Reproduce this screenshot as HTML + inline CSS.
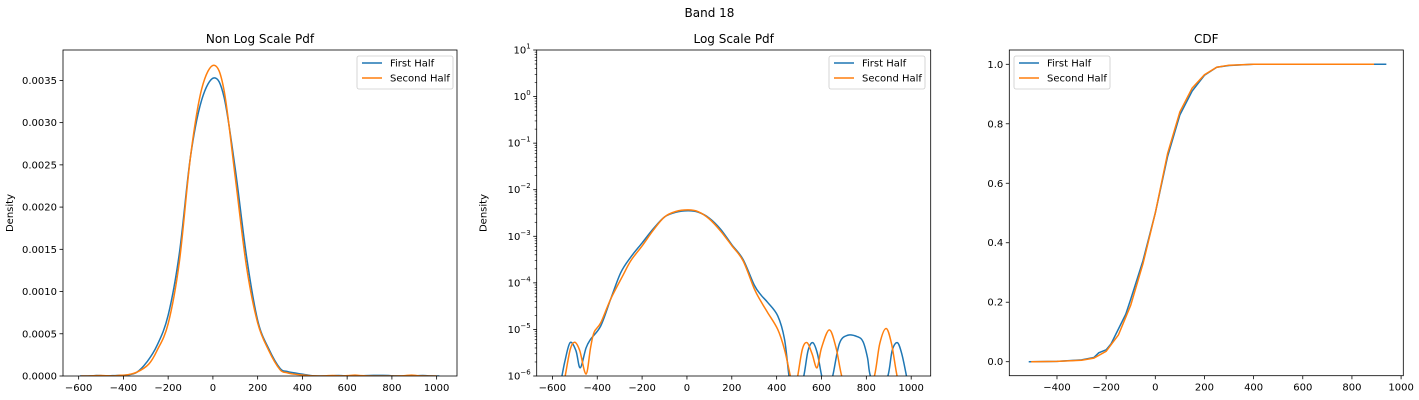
<!DOCTYPE html>
<html><head><meta charset="utf-8"><style>
html,body{margin:0;padding:0;background:#fff;width:1419px;height:400px;overflow:hidden;}
svg{display:block;font-family:"DejaVu Sans","Liberation Sans",sans-serif;}
</style></head><body>
<svg id="fig" width="1419" height="400" viewBox="0 0 1419 400" xmlns="http://www.w3.org/2000/svg" overflow="hidden">
<rect width="1419" height="400" fill="#fff"/>
<text x="709.5" y="17" font-size="12" text-anchor="middle">Band 18</text>
</svg>
<script>
// ---- data ----
const firstX = [-594,-575,-545,-521,-495,-476,-450,-429,-384,-340,-295,-250,-200,-150,-100,-50,5,50,100,150,200,250,300,330,360,405,435,455,470,495,521,540,561,582,601,625,650,680,717,760,785,805,818,855,896,915,938,958,979,995,1012];
const firstD = [1e-9,1e-7,2e-6,5.2e-6,3.5e-6,1.5e-6,4e-6,6.2e-6,1.2e-5,4.5e-5,1.66e-4,3.6e-4,7.2e-4,1.45e-3,2.6e-3,3.27e-3,3.53e-3,3.3e-3,2.45e-3,1.42e-3,6.6e-4,3.2e-4,9e-5,5.5e-5,3.8e-5,1.95e-5,6.2e-6,1e-6,1e-7,1e-7,1e-6,3.5e-6,5.2e-6,3e-6,1e-6,1e-7,1e-6,5e-6,7.5e-6,7e-6,5.5e-6,2.5e-6,1e-6,1e-7,1e-6,3.5e-6,5.2e-6,3e-6,1e-6,1e-7,1e-9];
const secondX = [-590,-560,-543,-520,-500,-478,-450,-430,-414,-384,-340,-287,-250,-200,-150,-100,-50,5,50,100,150,200,250,300,330,360,405,435,461,478,494,515,536,558,580,600,635,665,690,720,800,836,860,888,912,937,960,1000];
const secondD = [1e-9,1e-7,1e-6,3.8e-6,5.3e-6,3.5e-6,1.1e-6,4e-6,8.7e-6,1.4e-5,4.5e-5,1.4e-4,3e-4,6.2e-4,1.35e-3,2.6e-3,3.4e-3,3.68e-3,3.38e-3,2.35e-3,1.3e-3,6.3e-4,3e-4,7.5e-5,4e-5,2.3e-5,1e-5,3.7e-6,1e-6,1e-7,1e-6,3.8e-6,5.2e-6,3e-6,1.5e-6,4e-6,9.8e-6,4e-6,1e-6,1e-8,1e-8,1e-6,5e-6,1.05e-5,5e-6,1e-6,1e-8,1e-9];
const cdfFirstX = [-515,-400,-300,-250,-230,-200,-180,-150,-120,-100,-50,0,50,100,150,200,250,300,400,940];
const cdfFirstY = [0,0.001,0.006,0.014,0.03,0.04,0.06,0.11,0.16,0.21,0.34,0.5,0.69,0.83,0.91,0.963,0.99,0.996,1,1];
const cdfSecondX = [-505,-400,-300,-250,-200,-150,-100,-50,0,50,100,150,200,250,300,400,890];
const cdfSecondY = [0,0.001,0.005,0.012,0.035,0.09,0.19,0.33,0.5,0.7,0.84,0.92,0.965,0.99,0.997,1,1];
const linXTicks = [-600,-400,-200,0,200,400,600,800,1000];
const linYTicks = [0,0.0005,0.001,0.0015,0.002,0.0025,0.003,0.0035];
const linYLabels = ["0.0000","0.0005","0.0010","0.0015","0.0020","0.0025","0.0030","0.0035"];
const logExps = [-6,-5,-4,-3,-2,-1,0,1];
const cdfXTicks = [-400,-200,0,200,400,600,800,1000];
const cdfYTicks = [0,0.2,0.4,0.6,0.8,1.0];
const cdfYLabels = ["0.0","0.2","0.4","0.6","0.8","1.0"];
const BLUE="#1f77b4", ORANGE="#ff7f0e";

const NS="http://www.w3.org/2000/svg";
const svg=document.getElementById('fig');
function mk(tag,attrs,parent){const e=document.createElementNS(NS,tag);for(const k in attrs)e.setAttribute(k,attrs[k]);(parent||svg).appendChild(e);return e;}

function smoothPath(pts){
  let d="M"+pts[0][0].toFixed(2)+","+pts[0][1].toFixed(2);
  for(let i=0;i<pts.length-1;i++){
    const p0=pts[Math.max(0,i-1)],p1=pts[i],p2=pts[i+1],p3=pts[Math.min(pts.length-1,i+2)];
    const c1=[p1[0]+(p2[0]-p0[0])/6,Math.min(398,p1[1]+(p2[1]-p0[1])/6)];
    const c2=[p2[0]-(p3[0]-p1[0])/6,Math.min(398,p2[1]-(p3[1]-p1[1])/6)];
    d+="C"+c1[0].toFixed(2)+","+c1[1].toFixed(2)+" "+c2[0].toFixed(2)+","+c2[1].toFixed(2)+" "+p2[0].toFixed(2)+","+p2[1].toFixed(2);
  }
  return d;
}
function linePath(pts){return "M"+pts.map(p=>p[0].toFixed(2)+","+p[1].toFixed(2)).join("L");}

function panel(id,L,R,T,B,title,xTicks,xMin,xMax,yfun,yTicksDef,seriesDefs,legendX,ylabel){
  const g=mk('g',{});
  
  
  const cp=mk('clipPath',{id:id+'-clip'},g);
  mk('rect',{x:L,y:T,width:R-L,height:B-T},cp);
  const xs=v=>L+(v-xMin)/(xMax-xMin)*(R-L);
  const t=mk('text',{x:(L+R)/2,y:T-7,'font-size':12,'text-anchor':'middle'},g);
  t.textContent=title;
  
  
  seriesDefs.forEach(s=>{
    const pts=s.x.map((v,i)=>[xs(v),yfun(s.y[i])]);
    const p=mk('path',{d:s.smooth?smoothPath(pts):linePath(pts),fill:'none',stroke:s.color,'stroke-width':1.5,'clip-path':'url(#'+id+'-clip)'},g);
    
    
  });
  const fr=mk('rect',{x:L,y:T,width:R-L,height:B-T,fill:'none',stroke:'#000','stroke-width':0.8},g);
  
  
  xTicks.forEach(v=>{
    const x=xs(v);
    mk('line',{x1:x,x2:x,y1:B,y2:B+3.5,stroke:'#000','stroke-width':0.8},g);
    const tx=mk('text',{x:x,y:B+15,'font-size':10,'text-anchor':'middle'},g);
    tx.textContent=(v<0?'\u2212':'')+Math.abs(v);
    
    
  });
  yTicksDef(g);
  if(ylabel){
    const yl=mk('text',{x:0,y:0,'font-size':10,'text-anchor':'middle',transform:'translate('+(L-50)+','+((T+B)/2)+') rotate(-90)'},g);
    yl.textContent=ylabel;
    
    
  }
  const lg=mk('g',{},g);
  
  
  mk('rect',{x:legendX,y:T+6,width:96,height:33,rx:2,fill:'#fff','fill-opacity':0.8,stroke:'#ccc','stroke-width':0.8},lg);
  [['First Half',BLUE],['Second Half',ORANGE]].forEach((e,i)=>{
    const yy=T+13+i*15;
    const ent=mk('g',{},lg);
    
    
    mk('line',{x1:legendX+5,x2:legendX+25,y1:yy,y2:yy,stroke:e[1],'stroke-width':1.5},ent);
    const tt=mk('text',{x:legendX+33,y:yy+3.5,'font-size':10},ent);
    tt.textContent=e[0];
  });
}

(function(){
  const L=63,R=457,T=50,B=376,yMax=0.00386;
  const ys=v=>B-v/yMax*(B-T);
  panel('linear-pdf',L,R,T,B,'Non Log Scale Pdf',linXTicks,-670,1091,ys,function(g){
    linYTicks.forEach((v,i)=>{
      const y=ys(v);
      mk('line',{x1:L-3.5,x2:L,y1:y,y2:y,stroke:'#000','stroke-width':0.8},g);
      const t=mk('text',{x:L-6,y:y+3.5,'font-size':10,'text-anchor':'end'},g);
      t.textContent=linYLabels[i];
      
      
    });
  },[{name:'first-half-line',x:firstX,y:firstD,color:BLUE,smooth:true},{name:'second-half-line',x:secondX,y:secondD,color:ORANGE,smooth:true}],357,'Density');
})();

(function(){
  const L=536.7,R=930.7,T=50,B=376;
  const ys=v=>{const lv=Math.max(Math.log10(v),-6.4);return B-(lv+6)/7*(B-T);};
  panel('log-pdf',L,R,T,B,'Log Scale Pdf',linXTicks,-670,1087,ys,function(g){
    logExps.forEach(e=>{
      const y=ys(Math.pow(10,e));
      mk('line',{x1:L-3.5,x2:L,y1:y,y2:y,stroke:'#000','stroke-width':0.8},g);
      const t=mk('text',{x:L-6,y:y+3.5,'font-size':10,'text-anchor':'end'},g);
      
      
      const a=mk('tspan',{},t);a.textContent='10';
      const b=mk('tspan',{'font-size':7,dy:-5},t);b.textContent=(e<0?'\u2212':'')+Math.abs(e);
      if(e<1){for(let k=2;k<=9;k++){const yy=ys(k*Math.pow(10,e));mk('line',{x1:L-2,x2:L,y1:yy,y2:yy,stroke:'#000','stroke-width':0.6},g);}}
    });
  },[{name:'first-half-line',x:firstX,y:firstD,color:BLUE,smooth:true},{name:'second-half-line',x:secondX,y:secondD,color:ORANGE,smooth:true}],829,'Density');
})();

(function(){
  const L=1009.3,R=1403.3,T=50,B=375.7;
  const y0=361.7,y1=64.3;
  const ys=v=>y0-v*(y0-y1);
  panel('cdf',L,R,T,B,'CDF',cdfXTicks,-594,1009,ys,function(g){
    cdfYTicks.forEach((v,i)=>{
      const y=ys(v);
      mk('line',{x1:L-3.5,x2:L,y1:y,y2:y,stroke:'#000','stroke-width':0.8},g);
      const t=mk('text',{x:L-6,y:y+3.5,'font-size':10,'text-anchor':'end'},g);
      t.textContent=cdfYLabels[i];
      
      
    });
  },[{name:'first-half-line',x:cdfFirstX,y:cdfFirstY,color:BLUE,smooth:false},{name:'second-half-line',x:cdfSecondX,y:cdfSecondY,color:ORANGE,smooth:false}],1014,null);
})();
</script>
</body></html>
